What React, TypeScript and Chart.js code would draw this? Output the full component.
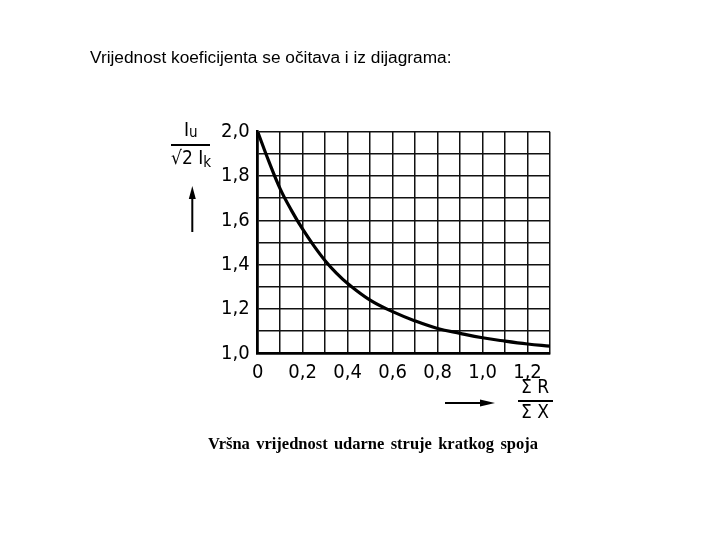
import React, { useEffect, useRef } from "react";
import { Chart, registerables } from "chart.js";

Chart.register(...registerables);

const ratioRX: number[] = [0, 0.05, 0.1, 0.15, 0.2, 0.25, 0.3, 0.35, 0.4, 0.5, 0.6, 0.7, 0.8, 0.9, 1.0, 1.1, 1.2, 1.3];
const kappa: number[] = [2.0, 1.865, 1.742, 1.645, 1.56, 1.485, 1.418, 1.362, 1.315, 1.24, 1.188, 1.146, 1.112, 1.09, 1.07, 1.055, 1.042, 1.032];
const xLabeled: number[] = [0, 2, 4, 6, 8, 10, 12]; // tenths shown as labels
const yLabeled: number[] = [10, 12, 14, 16, 18, 20];
const titleText = "Vrijednost koeficijenta se očitava i iz dijagrama:";
const captionWords: string[] = ["Vršna", "vrijednost", "udarne", "struje", "kratkog", "spoja"];

const tickFont = '"DejaVu Sans Condensed", "DejaVu Sans", sans-serif';

function fmt(v: number): string {
  if (Math.abs(v) < 1e-9) return "0";
  return v.toFixed(1).replace(".", ",");
}

function drawSeq(ctx: CanvasRenderingContext2D, parts: [string, string, number][], x: number, y: number) {
  let cx = x;
  for (const [text, font, dy] of parts) {
    ctx.font = font;
    ctx.fillText(text, cx, y + dy);
    cx += ctx.measureText(text).width;
  }
}

const extrasPlugin = {
  id: "extras",
  afterDraw(chart: any) {
    const ctx = chart.ctx as CanvasRenderingContext2D;
    ctx.save();
    ctx.fillStyle = "#000";
    ctx.strokeStyle = "#000";
    // Title
    ctx.font = '17.3px "Liberation Sans", Arial, sans-serif';
    ctx.textBaseline = "middle";
    ctx.textAlign = "left";
    ctx.fillText(titleText, 90, 58);

    // Caption, words spread from 208 to 538
    ctx.font = 'bold 16.5px "Liberation Serif", "Times New Roman", serif';
    ctx.textBaseline = "middle";
    const widths = captionWords.map((w) => ctx.measureText(w).width);
    const total = widths.reduce((a, b) => a + b, 0);
    const gap = (538 - 208 - total) / (captionWords.length - 1);
    let cx = 208;
    captionWords.forEach((w, i) => {
      ctx.fillText(w, cx, 445);
      cx += widths[i] + gap;
    });

    // Y axis title: Iu / √2 Ik
    ctx.textBaseline = "alphabetic";
    const big = "19px " + tickFont;
    const small = "15px " + tickFont;
    drawSeq(ctx, [["I", big, 0], ["u", small, 1]], 184, 136);
    ctx.lineWidth = 2;
    ctx.beginPath();
    ctx.moveTo(171, 145);
    ctx.lineTo(210, 145);
    ctx.stroke();
    drawSeq(ctx, [["√2", big, 0], [" I", big, 0], ["k", small, 3]], 171, 164);

    // Up arrow
    ctx.lineWidth = 2;
    ctx.beginPath();
    ctx.moveTo(192.3, 232);
    ctx.lineTo(192.3, 196);
    ctx.stroke();
    ctx.beginPath();
    ctx.moveTo(192.3, 186);
    ctx.lineTo(188.8, 199);
    ctx.lineTo(195.8, 199);
    ctx.closePath();
    ctx.fill();

    // Right arrow
    ctx.beginPath();
    ctx.moveTo(445, 403);
    ctx.lineTo(484, 403);
    ctx.stroke();
    ctx.beginPath();
    ctx.moveTo(495, 403);
    ctx.lineTo(480, 399.5);
    ctx.lineTo(480, 406.5);
    ctx.closePath();
    ctx.fill();

    // X axis title: ΣR / ΣX
    ctx.font = "19px " + tickFont;
    ctx.textAlign = "center";
    ctx.textBaseline = "middle";
    ctx.fillText("Σ R", 535, 388);
    ctx.beginPath();
    ctx.moveTo(518, 401);
    ctx.lineTo(553, 401);
    ctx.stroke();
    ctx.fillText("Σ X", 535, 413);
    ctx.restore();
  },
};

export default function App() {
  const ref = useRef<HTMLCanvasElement | null>(null);
  useEffect(() => {
    if (!ref.current) return;
    const chart = new Chart(ref.current, {
      type: "line",
      data: {
        datasets: [
          {
            data: ratioRX.map((x, i) => ({ x, y: kappa[i] })),
            borderColor: "#000",
            borderWidth: 3.2,
            pointRadius: 0,
            tension: 0.4,
            fill: false,
          },
        ],
      },
      options: {
        responsive: false,
        animation: false,
        events: [],
        layout: { padding: { top: 131.7, right: 170, left: 0, bottom: 0 } },
        plugins: { legend: { display: false }, tooltip: { enabled: false }, title: { display: false } },
        scales: {
          x: {
            type: "linear",
            min: 0,
            max: 1.3,
            afterFit: (s: any) => {
              s.height = 540 - 353.3;
            },
            afterBuildTicks: (s: any) => {
              const t = [];
              for (let i = 0; i <= 13; i++) t.push({ value: i / 10 });
              s.ticks = t;
            },
            ticks: {
              autoSkip: false,
              maxRotation: 0,
              padding: 7,
              color: "#000",
              font: { family: tickFont, size: 20 },
              callback: (v: any) => {
                const n = Math.round(Number(v) * 10);
                return xLabeled.includes(n) ? fmt(n / 10) : "";
              },
            },
            grid: {
              color: "#111",
              lineWidth: 1.5,
              drawTicks: false,
            },
            border: { display: true, color: "#000", width: 2.6 },
          },
          y: {
            type: "linear",
            min: 1.0,
            max: 2.0,
            afterFit: (s: any) => {
              s.width = 257.7;
            },
            afterBuildTicks: (s: any) => {
              const t = [];
              for (let i = 10; i <= 20; i++) t.push({ value: i / 10 });
              s.ticks = t;
            },
            ticks: {
              autoSkip: false,
              padding: 8,
              color: "#000",
              font: { family: tickFont, size: 20 },
              callback: (v: any) => {
                const n = Math.round(Number(v) * 10);
                return yLabeled.includes(n) ? fmt(n / 10) : "";
              },
            },
            grid: {
              color: "#111",
              lineWidth: 1.5,
              drawTicks: false,
            },
            border: { display: true, color: "#000", width: 2.6 },
          },
        },
      },
      plugins: [extrasPlugin],
    } as any);
    return () => chart.destroy();
  }, []);
  return (
    <div style={{ position: "absolute", left: 0, top: 0, width: 720, height: 540, background: "#fff" }}>
      <canvas ref={ref} width={720} height={540} style={{ display: "block" }} />
    </div>
  );
}
